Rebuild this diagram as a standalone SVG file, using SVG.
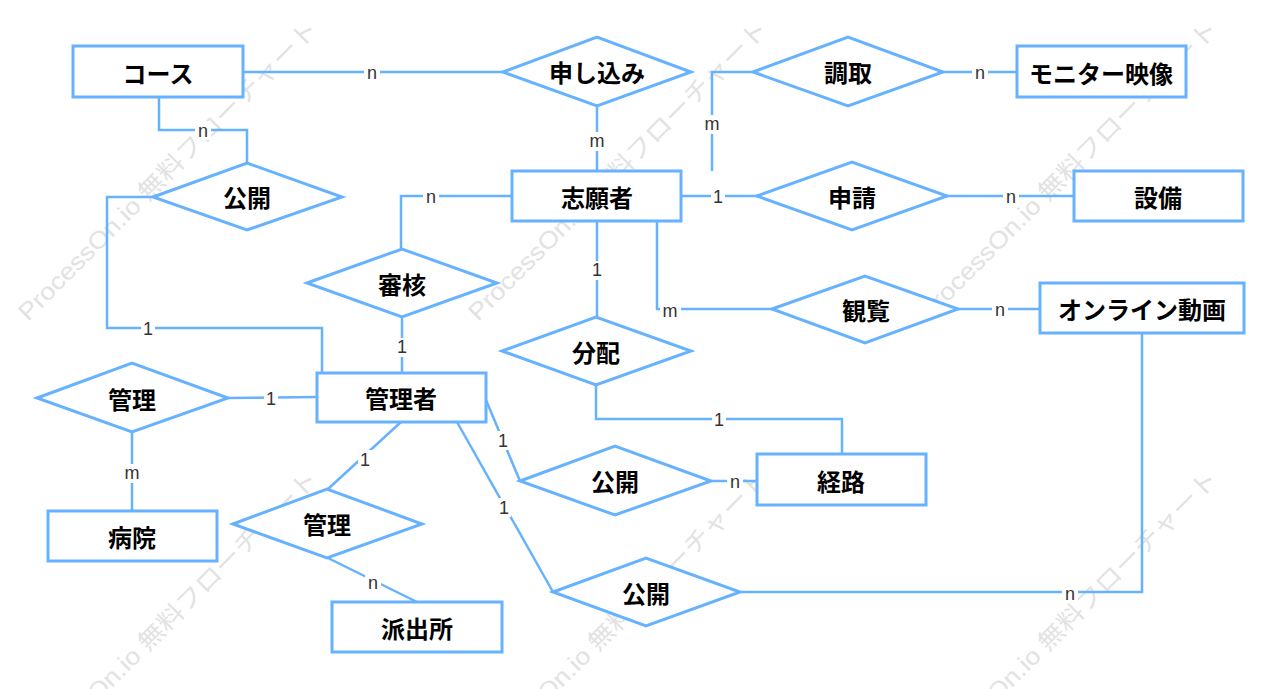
<svg xmlns="http://www.w3.org/2000/svg" width="1280" height="689" viewBox="0 0 1280 689">
<style>
.wm{font-family:"Liberation Sans","Noto Sans CJK JP",sans-serif;font-size:24px;fill:#e2e2e2}
.ent{fill:#fff;stroke:#66b2ff;stroke-width:3}
.rel{fill:#fff;stroke:#66b2ff;stroke-width:3}
.t{font-family:"Noto Sans CJK JP","Noto Sans",sans-serif;font-size:24px;font-weight:bold;fill:#000;text-anchor:middle;dominant-baseline:central}
.c{fill:none;stroke:#66b2ff;stroke-width:2.5}
.lb{fill:#fff}
.l{font-family:"Liberation Sans",Arial,sans-serif;font-size:18px;fill:#333;text-anchor:middle;dominant-baseline:central}
</style>
<rect width="1280" height="689" fill="#fff"/>
<g id="watermark">
<text class="wm" transform="translate(28,322) rotate(-45)" textLength="412" lengthAdjust="spacingAndGlyphs">ProcessOn.io 無料フローチャート</text>
<text class="wm" transform="translate(478,322) rotate(-45)" textLength="412" lengthAdjust="spacingAndGlyphs">ProcessOn.io 無料フローチャート</text>
<text class="wm" transform="translate(928,322) rotate(-45)" textLength="412" lengthAdjust="spacingAndGlyphs">ProcessOn.io 無料フローチャート</text>
<text class="wm" transform="translate(28,772) rotate(-45)" textLength="412" lengthAdjust="spacingAndGlyphs">ProcessOn.io 無料フローチャート</text>
<text class="wm" transform="translate(478,772) rotate(-45)" textLength="412" lengthAdjust="spacingAndGlyphs">ProcessOn.io 無料フローチャート</text>
<text class="wm" transform="translate(928,772) rotate(-45)" textLength="412" lengthAdjust="spacingAndGlyphs">ProcessOn.io 無料フローチャート</text>
</g>
<g id="connectors">
<polyline class="c" points="243,72 503,72"/>
<polyline class="c" points="159,97 159,130 247,130 247,163"/>
<polyline class="c" points="153,197 107,197 107,328 322,328 322,373"/>
<polyline class="c" points="597,106 597,171"/>
<polyline class="c" points="712,171 712,72 753,72"/>
<polyline class="c" points="681,196 757,196"/>
<polyline class="c" points="947,196 1074,196"/>
<polyline class="c" points="943,72 1017,72"/>
<polyline class="c" points="512,196 401,196 401,249"/>
<polyline class="c" points="402,317 402,373"/>
<polyline class="c" points="597,221 597,317"/>
<polyline class="c" points="657,221 657,309 772,309"/>
<polyline class="c" points="958,309 1040,309"/>
<polyline class="c" points="596,385 596,419 842,419 842,454"/>
<polyline class="c" points="228,398 317,397"/>
<polyline class="c" points="132,432 132,511"/>
<polyline class="c" points="401,422 328,489"/>
<polyline class="c" points="328,558 417,602"/>
<polyline class="c" points="486,400 520,481"/>
<polyline class="c" points="457,422 553,592"/>
<polyline class="c" points="740,592 1142,592 1142,333"/>
<polyline class="c" points="711,481 757,481"/>
<g id="labels">
<rect class="lb" x="364" y="63" width="16" height="19"/><text class="l" x="372" y="73">n</text>
<rect class="lb" x="195" y="121" width="16" height="19"/><text class="l" x="203" y="131">n</text>
<rect class="lb" x="141" y="319" width="14" height="19"/><text class="l" x="148" y="329">1</text>
<rect class="lb" x="587" y="132" width="20" height="19"/><text class="l" x="597" y="141">m</text>
<rect class="lb" x="702" y="115" width="20" height="19"/><text class="l" x="712" y="124">m</text>
<rect class="lb" x="711" y="187" width="14" height="19"/><text class="l" x="718" y="197">1</text>
<rect class="lb" x="1003" y="187" width="16" height="19"/><text class="l" x="1011" y="197">n</text>
<rect class="lb" x="972" y="63" width="16" height="19"/><text class="l" x="980" y="73">n</text>
<rect class="lb" x="423" y="187" width="16" height="19"/><text class="l" x="431" y="197">n</text>
<rect class="lb" x="395" y="338" width="14" height="19"/><text class="l" x="402" y="347">1</text>
<rect class="lb" x="590" y="261" width="14" height="19"/><text class="l" x="597" y="270">1</text>
<rect class="lb" x="660" y="301" width="21" height="19"/><text class="l" x="670" y="311">m</text>
<rect class="lb" x="992" y="300" width="16" height="19"/><text class="l" x="1000" y="310">n</text>
<rect class="lb" x="712" y="410" width="14" height="19"/><text class="l" x="719" y="420">1</text>
<rect class="lb" x="264" y="389" width="14" height="19"/><text class="l" x="271" y="399">1</text>
<rect class="lb" x="122" y="464" width="20" height="19"/><text class="l" x="132" y="473">m</text>
<rect class="lb" x="358" y="450" width="14" height="19"/><text class="l" x="365" y="460">1</text>
<rect class="lb" x="365" y="573" width="16" height="19"/><text class="l" x="373" y="583">n</text>
<rect class="lb" x="496" y="431" width="14" height="19"/><text class="l" x="503" y="441">1</text>
<rect class="lb" x="497" y="498" width="14" height="19"/><text class="l" x="504" y="508">1</text>
<rect class="lb" x="1062" y="584" width="16" height="19"/><text class="l" x="1070" y="594">n</text>
<rect class="lb" x="727" y="472" width="16" height="19"/><text class="l" x="735" y="482">n</text>
</g>
</g>
<g id="e-course"><rect class="ent" x="73" y="46" width="170" height="51"/><text class="t" x="158" y="72">コース</text></g>
<g id="e-monitor"><rect class="ent" x="1017" y="46" width="169" height="51"/><text class="t" x="1101" y="72">モニター映像</text></g>
<g id="e-equipment"><rect class="ent" x="1074" y="171" width="169" height="50"/><text class="t" x="1158" y="196">設備</text></g>
<g id="e-applicant"><rect class="ent" x="512" y="171" width="169" height="50"/><text class="t" x="597" y="196">志願者</text></g>
<g id="e-video"><rect class="ent" x="1040" y="283" width="204" height="50"/><text class="t" x="1142" y="308">オンライン動画</text></g>
<g id="e-admin"><rect class="ent" x="317" y="373" width="169" height="49"/><text class="t" x="401" y="397">管理者</text></g>
<g id="e-hospital"><rect class="ent" x="48" y="511" width="169" height="50"/><text class="t" x="132" y="536">病院</text></g>
<g id="e-police"><rect class="ent" x="332" y="602" width="170" height="50"/><text class="t" x="417" y="627">派出所</text></g>
<g id="e-route"><rect class="ent" x="757" y="454" width="169" height="51"/><text class="t" x="841" y="480">経路</text></g>
<g id="r-apply"><polygon class="rel" points="503,72 597,37 691,72 597,106"/><text class="t" x="597" y="71">申し込み</text></g>
<g id="r-retrieve"><polygon class="rel" points="753,72 848,37 943,72 848,106"/><text class="t" x="848" y="71">調取</text></g>
<g id="r-request"><polygon class="rel" points="757,196 852,162 947,196 852,230"/><text class="t" x="852" y="196">申請</text></g>
<g id="r-publish1"><polygon class="rel" points="153,197 247,163 342,197 247,230"/><text class="t" x="247" y="196">公開</text></g>
<g id="r-review"><polygon class="rel" points="307,283 402,249 497,283 402,317"/><text class="t" x="402" y="283">審核</text></g>
<g id="r-assign"><polygon class="rel" points="502,351 596,317 691,351 596,385"/><text class="t" x="596" y="351">分配</text></g>
<g id="r-view"><polygon class="rel" points="772,309 865,276 958,309 865,343"/><text class="t" x="866" y="309">観覧</text></g>
<g id="r-manage1"><polygon class="rel" points="37,398 132,363 228,398 132,432"/><text class="t" x="132" y="398">管理</text></g>
<g id="r-manage2"><polygon class="rel" points="233,524 327,489 422,524 327,558"/><text class="t" x="327" y="523">管理</text></g>
<g id="r-publish2"><polygon class="rel" points="520,481 615,446 711,481 615,515"/><text class="t" x="615" y="480">公開</text></g>
<g id="r-publish3"><polygon class="rel" points="553,592 646,558 740,592 646,626"/><text class="t" x="646" y="592">公開</text></g>
</svg>
